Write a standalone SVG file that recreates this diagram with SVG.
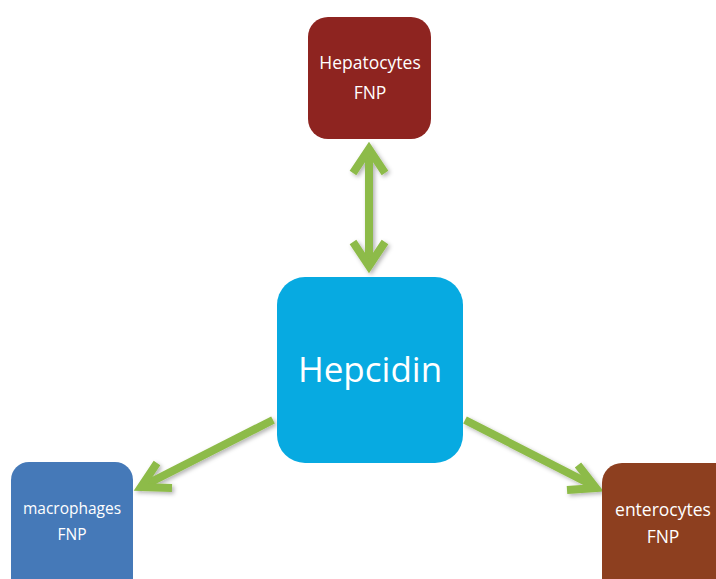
<svg xmlns="http://www.w3.org/2000/svg" width="716" height="579" viewBox="0 0 716 579">
<defs>
<style>
.lbl{font-family:"Open Sans","Liberation Sans",sans-serif;fill:#ffffff;text-anchor:middle}
.conn{fill:none;stroke:#8DBB48;stroke-width:8;stroke-linejoin:miter;stroke-linecap:butt}
</style>
<filter id="sh" x="-20%" y="-20%" width="140%" height="140%">
<feDropShadow dx="2" dy="2" stdDeviation="2" flood-color="#000" flood-opacity="0.3"/>
</filter>
</defs>
<rect width="716" height="579" fill="#ffffff"/>
<g id="connectors" filter="url(#sh)">
<path class="conn" d="M369,150 L369,265"/>
<path class="conn" d="M353,173 L369,149 L385,173"/>
<path class="conn" d="M353,242 L369,266 L385,242"/>
<path class="conn" d="M273,420 L143,486"/>
<path class="conn" d="M157,463 L141,487 L172,488"/>
<path class="conn" d="M465,420 L594,486"/>
<path class="conn" d="M578,465 L596,488 L567,490"/>
</g>
<g id="hepatocytes">
<rect x="308" y="17" width="123" height="122" rx="20" fill="#8E2420"/>
<text class="lbl" x="370" y="69" font-size="17.5">Hepatocytes</text>
<text class="lbl" x="370" y="99" font-size="17.5">FNP</text>
</g>
<g id="hepcidin">
<rect x="277" y="277" width="186" height="186" rx="28" fill="#07AAE1"/>
<text class="lbl" x="370" y="382" font-size="35">Hepcidin</text>
</g>
<g id="macrophages">
<rect x="11" y="462" width="122" height="140" rx="18" fill="#4579B8"/>
<text class="lbl" x="72" y="514" font-size="15.5">macrophages</text>
<text class="lbl" x="72" y="540" font-size="15.5">FNP</text>
</g>
<g id="enterocytes">
<rect x="602" y="463" width="140" height="140" rx="20" fill="#8D3F1F"/>
<text class="lbl" x="663" y="516" font-size="17.5">enterocytes</text>
<text class="lbl" x="663" y="543" font-size="17.5">FNP</text>
</g>
</svg>
